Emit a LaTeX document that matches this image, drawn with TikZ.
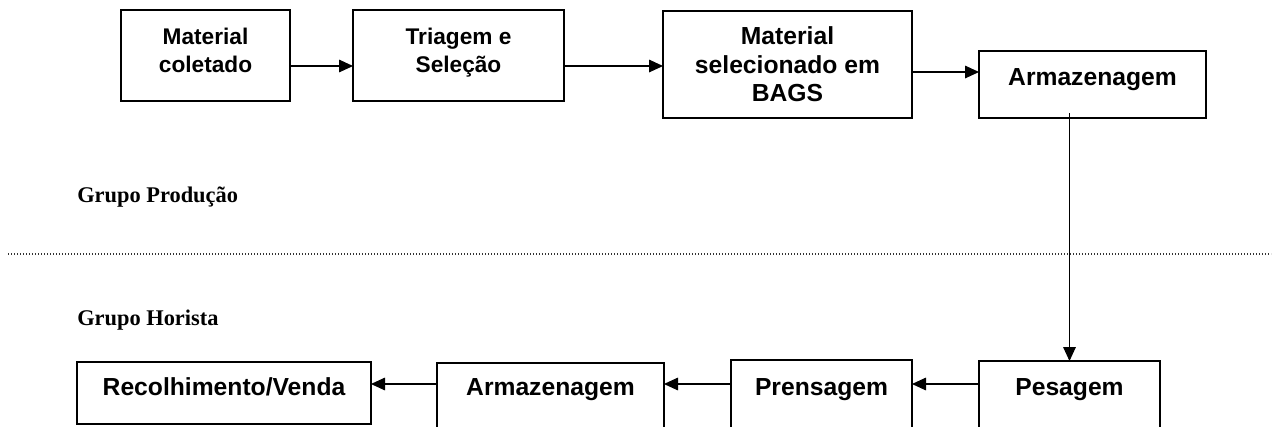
\documentclass[tikz,border=0pt]{standalone}
\usepackage{fontspec}
\setmainfont{Liberation Serif}
\newfontfamily\arialf{Liberation Sans}
\usetikzlibrary{arrows.meta,calc}
\tikzset{
  boxn/.style={draw=black, line width=1pt, rectangle, inner sep=0pt, outer sep=0pt},
  txt/.style={anchor=base, align=center, inner sep=0pt, font=\arialf\bfseries\fontsize{17}{20.8}\selectfont},
  txtb/.style={txt, font=\arialf\bfseries\fontsize{18.5}{21.4}\selectfont},
  grp/.style={anchor=base west, inner sep=0pt, font=\bfseries\fontsize{16.8}{19}\selectfont},
  arr/.style={line width=0.8pt, -{Triangle[length=10.5pt,width=9.5pt]}},
  sep/.style={line width=0.8pt, black!80, dash pattern=on 0.8pt off 1.45pt}
}
\begin{document}
\begin{tikzpicture}[x=0.75pt,y=-0.75pt]
\useasboundingbox (0,0) rectangle (1272,426);
\clip (0,0) rectangle (1272,426);
% top row boxes
\node[boxn, minimum width=126.75pt, minimum height=68.25pt] (b1) at (205.5,55.5) {};
\node[boxn, minimum width=158.25pt, minimum height=68.25pt] (b2) at (458.5,55.5) {};
\node[boxn, minimum width=186.75pt, minimum height=80.25pt] (b3) at (787.5,64.5) {};
\node[boxn, minimum width=170.25pt, minimum height=50.25pt] (b4) at (1092.5,84.5) {};
\node[txt] at (205.5,72.7) {Material\\coletado};
\node[txt] at (458.5,72.7) {Triagem e\\Seleção};
\node[txtb] at (787.5,101.7) {Material\\selecionado em\\BAGS};
\node[txtb] at (1092.5,85) {Armazenagem};
% bottom row boxes
\node[boxn, minimum width=220.5pt, minimum height=46.5pt] (r1) at (224,393) {};
\node[boxn, minimum width=170.25pt, minimum height=60pt] (r2) at (550.5,403) {};
\node[boxn, minimum width=135.75pt, minimum height=60pt] (r3) at (821.5,400) {};
\node[boxn, minimum width=135.75pt, minimum height=60pt] (r4) at (1069.5,401) {};
\node[txtb] at (224,395) {Recolhimento/Venda};
\node[txtb] at (550.5,395) {Armazenagem};
\node[txtb] at (821.5,395) {Prensagem};
\node[txtb] at (1069.5,395) {Pesagem};
% group labels and separator
\node[grp] (gp) at (77,202) {Grupo Produção};
\node[grp] (gh) at (77,325) {Grupo Horista};
\coordinate (sepL) at (8,254);
\coordinate (sepR) at (1271,254);
\draw[sep] (sepL) -- (sepR);
% connectors
\coordinate (rowA) at (0,66);
\coordinate (rowB) at (0,72);
\coordinate (rowC) at (0,384);
\draw[arr] (b1.east |- rowA) -- (b2.west |- rowA);
\draw[arr] (b2.east |- rowA) -- (b3.west |- rowA);
\draw[arr] (b3.east |- rowB) -- (b4.west |- rowB);
\draw[arr] ($(r4.north |- b4.south)+(0,-5)$) -- (r4.north);
\draw[arr] (r4.west |- rowC) -- (r3.east |- rowC);
\draw[arr] (r3.west |- rowC) -- (r2.east |- rowC);
\draw[arr] (r2.west |- rowC) -- (r1.east |- rowC);
\end{tikzpicture}
\end{document}
